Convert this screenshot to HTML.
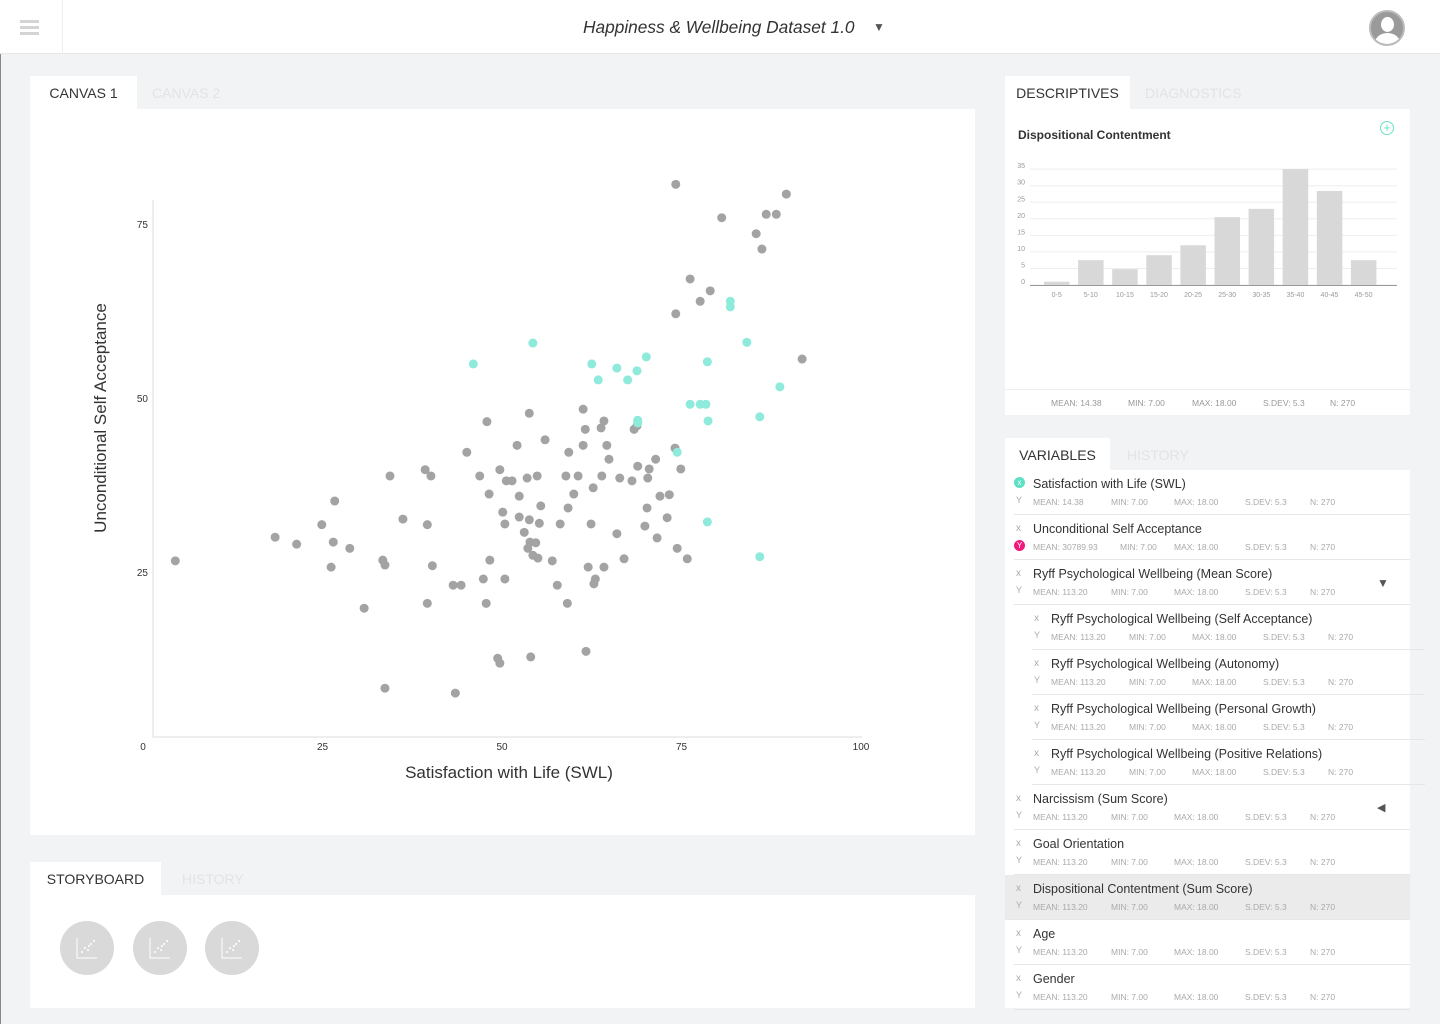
<!DOCTYPE html>
<html><head><meta charset="utf-8">
<style>
*{box-sizing:border-box;margin:0;padding:0}
body{width:1440px;height:1024px;background:#f2f3f5;font-family:"Liberation Sans",sans-serif;position:relative;overflow:hidden;color:#333}
.abs{position:absolute}
.tab{position:absolute;background:#fff;font-size:14px;color:#333;padding-top:9px;text-align:center}
.tabo{position:absolute;font-size:14px;color:#e2e3e6}
.panel{position:absolute;background:#fff}
.row{position:absolute;height:45px;border-bottom:1px solid #e6e6e6}
.row .n{position:absolute;top:7px;font-size:12.5px;color:#333}
.row .s{position:absolute;top:27px;font-size:8.5px;color:#aaa}
.row .xi{position:absolute;top:8px;font-size:10px;color:#aaa}
.row .yi{position:absolute;top:25px;font-size:9px;color:#aaa}
</style></head><body>
<div class="abs" style="left:0;top:0;width:1440px;height:54px;background:#fff;border-bottom:1px solid #e8e8e8"></div>
<div class="abs" style="left:20px;top:20px;width:19px;height:15px">
<div style="height:3px;background:#d4d4d4;margin-bottom:3px"></div><div style="height:3px;background:#d4d4d4;margin-bottom:3px"></div><div style="height:3px;background:#d4d4d4"></div></div>
<div class="abs" style="left:62px;top:0;width:1px;height:54px;background:#eee"></div>
<div class="abs" style="left:583px;top:17px;font-size:17.3px;font-style:italic;color:#333">Happiness &amp; Wellbeing Dataset 1.0</div>
<div class="abs" style="left:873px;top:20px;font-size:12px;color:#555">▼</div>
<div class="abs" style="left:1369px;top:10px;width:36px;height:36px;border-radius:50%;background:#9a9a9a;overflow:hidden;border:2px solid #bbb">
<div style="position:absolute;left:10px;top:5px;width:13px;height:15px;border-radius:50%;background:#fff"></div>
<div style="position:absolute;left:4px;top:21px;width:25px;height:20px;border-radius:50% 50% 0 0;background:#fff"></div></div>
<div class="abs" style="left:0;top:54px;width:1px;height:970px;background:#888"></div>

<div class="tab" style="left:30px;top:76px;width:107px;height:33px">CANVAS 1</div>
<div class="tabo" style="left:152px;top:85px">CANVAS 2</div>
<div class="panel" style="left:30px;top:109px;width:945px;height:726px"></div>
<svg class="abs" id="scatter" style="left:0;top:0" width="1000" height="840"></svg>

<div class="tab" style="left:30px;top:862px;width:131px;height:33px">STORYBOARD</div>
<div class="tabo" style="left:182px;top:871px">HISTORY</div>
<div class="panel" style="left:30px;top:895px;width:945px;height:113px"></div>
<svg class="abs" style="left:0;top:880px" width="300" height="120">
<g><circle cx="87" cy="68" r="27" fill="#d9d9d9"/><path d="M77 58v20h20" stroke="#fff" fill="none"/><g fill="#fff"><circle cx="82" cy="72" r="1"/><circle cx="85" cy="68" r="1"/><circle cx="88" cy="70" r="1"/><circle cx="91" cy="64" r="1"/><circle cx="94" cy="61" r="1"/><circle cx="89" cy="66" r="1"/></g></g>
<g><circle cx="160" cy="68" r="27" fill="#d9d9d9"/><path d="M150 58v20h20" stroke="#fff" fill="none"/><g fill="#fff"><circle cx="155" cy="72" r="1"/><circle cx="158" cy="68" r="1"/><circle cx="161" cy="70" r="1"/><circle cx="164" cy="64" r="1"/><circle cx="167" cy="61" r="1"/><circle cx="162" cy="66" r="1"/></g></g>
<g><circle cx="232" cy="68" r="27" fill="#d9d9d9"/><path d="M222 58v20h20" stroke="#fff" fill="none"/><g fill="#fff"><circle cx="227" cy="72" r="1"/><circle cx="230" cy="68" r="1"/><circle cx="233" cy="70" r="1"/><circle cx="236" cy="64" r="1"/><circle cx="239" cy="61" r="1"/><circle cx="234" cy="66" r="1"/></g></g>
</svg>

<div class="tab" style="left:1005px;top:76px;width:125px;height:33px">DESCRIPTIVES</div>
<div class="tabo" style="left:1145px;top:85px">DIAGNOSTICS</div>
<div class="panel" style="left:1005px;top:109px;width:405px;height:306px"></div>
<div class="abs" style="left:1018px;top:128px;font-size:12px;font-weight:bold;color:#333">Dispositional Contentment</div>
<div class="abs" style="left:1380px;top:121px;width:14px;height:14px;border:1px solid #6fe0c8;border-radius:50%;color:#6fe0c8;font-size:13px;line-height:11px;text-align:center">+</div>
<svg class="abs" id="hist" style="left:1005px;top:150px" width="405" height="160"></svg>
<div class="abs" style="left:1005px;top:389px;width:405px;height:1px;background:#eee"></div>
<div class="abs" style="left:1051px;top:398px;font-size:8.5px;color:#999;word-spacing:0">
<span style="position:absolute;left:0;white-space:nowrap">MEAN: 14.38</span><span style="position:absolute;left:77px;white-space:nowrap">MIN: 7.00</span><span style="position:absolute;left:141px;white-space:nowrap">MAX: 18.00</span><span style="position:absolute;left:212px;white-space:nowrap">S.DEV: 5.3</span><span style="position:absolute;left:279px;white-space:nowrap">N: 270</span></div>

<div class="tab" style="left:1005px;top:438px;width:105px;height:33px;font-size:14px">VARIABLES</div>
<div class="tabo" style="left:1127px;top:447px">HISTORY</div>
<div class="panel" style="left:1005px;top:470px;width:405px;height:538px"></div>
<div id="vars"></div>

<script>
// Scatter data
const greyX=[74.2,89.6,80.6,86.8,88.2,85.4,86.2,76.2,79.0,77.6,74.2,91.8,53.8,61.3,47.9,64.2,61.6,63.8,68.4,68.8,56.0,52.1,64.6,61.3,45.1,59.3,64.9,71.4,74.1,39.3,34.4,40.1,49.7,46.9,50.6,51.4,53.5,54.9,58.9,60.6,63.9,66.4,68.9,70.5,68.1,70.3,74.9,26.7,48.2,52.4,60.0,62.7,72.0,73.3,55.4,59.2,70.2,50.1,53.8,52.4,50.4,55.2,58.1,62.4,69.9,66.0,73.0,36.2,39.6,24.9,18.4,21.4,26.5,28.8,53.1,53.9,54.7,53.6,54.3,55.0,57.0,48.3,67.0,71.6,74.4,75.8,33.4,33.7,26.2,40.3,4.5,62.0,64.2,63.0,62.8,47.4,50.4,43.2,44.3,57.7,30.8,39.6,47.8,59.1,61.7,54.0,49.4,49.7,33.7,43.5];
const greyY=[80.7,79.3,75.9,76.4,76.4,73.6,71.4,67.1,65.4,63.9,62.1,55.6,47.8,48.4,46.6,46.7,45.5,45.7,45.5,46.0,44.0,43.2,43.2,43.2,42.2,42.2,41.2,41.2,42.8,39.7,38.8,38.8,39.7,38.8,38.1,38.1,38.5,38.8,38.8,38.8,38.8,38.5,40.2,39.8,38.1,38.5,39.8,35.2,36.2,35.9,36.2,37.1,35.9,36.1,34.5,34.2,34.2,33.6,32.5,32.9,31.9,32.0,31.9,31.9,31.6,30.5,32.8,32.6,31.8,31.8,30.0,29.0,29.3,28.4,30.7,29.3,29.2,28.4,27.4,27.0,26.6,26.7,26.9,29.9,28.4,26.9,26.7,26.0,25.7,25.9,26.6,25.7,25.7,24.0,23.3,24.0,24.0,23.1,23.1,23.1,19.8,20.5,20.5,20.5,13.6,12.8,12.6,11.9,8.3,7.6];
const tealX=[46.0,54.3,62.5,63.4,66.0,67.5,68.8,70.1,78.6,81.8,81.8,84.1,88.7,76.2,77.6,78.4,78.7,85.9,68.9,68.9,74.4,78.6,85.9];
const tealY=[54.9,57.9,54.9,52.6,54.3,52.6,53.9,55.9,55.2,63.9,63.1,58.0,51.6,49.1,49.1,49.1,46.7,47.3,46.8,46.4,42.2,32.2,27.2];
const xTicks=[0,25,50,75,100];
const yTicks=[25,50,75];
// Histogram data
const binLabels=["0-5","5-10","10-15","15-20","20-25","25-30","30-35","35-40","40-45","45-50"];
const binCounts=[1,7.5,4.8,9,12,20.5,23,35,28.4,7.5];
const histTicks=[0,5,10,15,20,25,30,35];

const NS="http://www.w3.org/2000/svg";
function mk(parent,tag,attrs,text){const e=document.createElementNS(NS,tag);for(const k in attrs)e.setAttribute(k,attrs[k]);if(text!==undefined)e.textContent=text;parent.appendChild(e);return e;}
const sx=v=>143+7.18*v, sy=v=>746-6.96*v;
const sc=document.getElementById('scatter');
let e;
e=mk(sc,'line',{x1:153,y1:200,x2:153,y2:737,stroke:'#ddd'});


e=mk(sc,'line',{x1:153,y1:737,x2:862,y2:737,stroke:'#ddd'});


xTicks.forEach(t=>{e=mk(sc,'text',{x:sx(t),y:750,'font-size':10,fill:'#333','text-anchor':'middle','font-family':'Liberation Sans'},t);

});
yTicks.forEach(t=>{e=mk(sc,'text',{x:148,y:sy(t)+4,'font-size':10,fill:'#333','text-anchor':'end','font-family':'Liberation Sans'},t);

});
e=mk(sc,'text',{x:509,y:778,'font-size':17,fill:'#333','text-anchor':'middle','font-family':'Liberation Sans'},'Satisfaction with Life (SWL)');


e=mk(sc,'text',{x:106,y:418,'font-size':17,fill:'#333','text-anchor':'middle','font-family':'Liberation Sans',transform:'rotate(-90 106 418)'},'Unconditional Self Acceptance');


greyX.forEach((v,i)=>{e=mk(sc,'circle',{cx:sx(v),cy:sy(greyY[i]),r:4.5,fill:'#a3a3a3'});

});
tealX.forEach((v,i)=>{e=mk(sc,'circle',{cx:sx(v),cy:sy(tealY[i]),r:4.5,fill:'#8eeadb'});

});

const hs=document.getElementById('hist');
const hy=v=>135-3.31*v;
histTicks.forEach(t=>{mk(hs,'line',{x1:25,x2:392,y1:hy(t),y2:hy(t),stroke:'#eee'});
e=mk(hs,'text',{x:20,y:hy(t)-1,'font-size':7,fill:'#999','text-anchor':'end','font-family':'Liberation Sans'},t);

});
binCounts.forEach((c,i)=>{const x=39+34.1*i;
e=mk(hs,'rect',{x:x,y:hy(c),width:25.5,height:135-hy(c),fill:'#d8d8d8'});


e=mk(hs,'text',{x:x+12.7,y:147,'font-size':7,fill:'#999','text-anchor':'middle','font-family':'Liberation Sans'},binLabels[i]);

});
mk(hs,'line',{x1:25,x2:392,y1:135.5,y2:135.5,stroke:'#999'});

const vars=[["Satisfaction with Life (SWL)","14.38",0,"x"],["Unconditional Self Acceptance","30789.93",0,"y"],["Ryff Psychological Wellbeing (Mean Score)","113.20",0,"down"],["Ryff Psychological Wellbeing (Self Acceptance)","113.20",1],["Ryff Psychological Wellbeing (Autonomy)","113.20",1],["Ryff Psychological Wellbeing (Personal Growth)","113.20",1],["Ryff Psychological Wellbeing (Positive Relations)","113.20",1],["Narcissism (Sum Score)","113.20",0,"left"],["Goal Orientation","113.20",0],["Dispositional Contentment (Sum Score)","113.20",0,"hl"],["Age","113.20",0],["Gender","113.20",0]];
const vc=document.getElementById('vars');
vars.forEach((v,i)=>{const d=document.createElement('div');d.className='row';
const ind=v[2]?18:0;
d.style.left=(1014+ind)+'px';d.style.top=(470+45*i)+'px';d.style.width=(v[2]?393:396)+'px';
if(v[3]==='hl'){d.style.background='#ebebeb';d.style.left='1005px';d.style.width='405px';}
const o=v[3]==='hl'?9:0;
const big=v[1]==="30789.93";
let xi=v[3]==='x'?'<span style="position:absolute;left:'+o+'px;top:7px;width:11px;height:11px;border-radius:50%;background:#5ce0c6;color:#fff;font-size:8px;text-align:center;line-height:11px">x</span>':'<span class="xi" style="left:'+(o+2)+'px">x</span>';
let yi=v[3]==='y'?'<span style="position:absolute;left:'+o+'px;top:25px;width:11px;height:11px;border-radius:50%;background:#f0197d;color:#fff;font-size:8px;text-align:center;line-height:11px">Y</span>':'<span class="yi" style="left:'+(o+2)+'px">Y</span>';
const b=o+19;
d.innerHTML=xi+yi+'<span class="n" style="left:'+b+'px">'+v[0]+'</span>'+
'<span class="s" style="left:'+b+'px">MEAN: '+v[1]+'</span><span class="s" style="left:'+(b+(big?87:78))+'px">MIN: 7.00</span><span class="s" style="left:'+(b+141)+'px">MAX: 18.00</span><span class="s" style="left:'+(b+212)+'px">S.DEV: 5.3</span><span class="s" style="left:'+(b+277)+'px">N: 270</span>'+
(v[3]==='down'?'<span style="position:absolute;left:363px;top:16px;font-size:12px;color:#555">▼</span>':'')+
(v[3]==='left'?'<span style="position:absolute;left:363px;top:16px;font-size:11px;color:#555">◀</span>':'');


vc.appendChild(d);});
</script>
</body></html>
